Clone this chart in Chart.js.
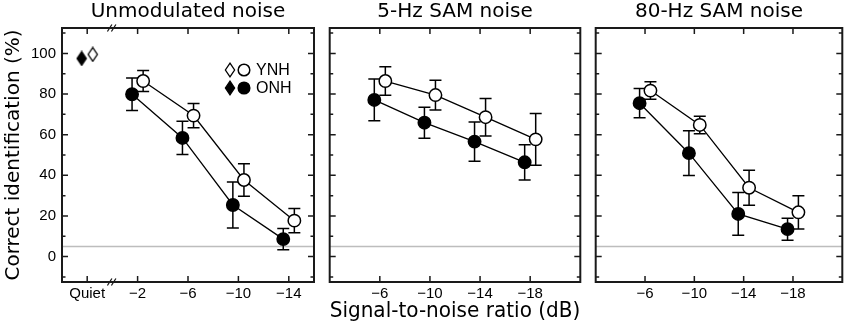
<!DOCTYPE html>
<html>
<head>
<meta charset="utf-8">
<title>Correct identification vs SNR</title>
<script src="https://cdn.jsdelivr.net/npm/chart.js"></script>
<style>
  html, body { margin: 0; padding: 0; background: #fff; }
  #wrap { position: relative; width: 850px; height: 328px; }
  #wrap canvas { position: absolute; top: 0; }
</style>
</head>
<body>
<div id="wrap">
  <canvas id="c1" width="322" height="328" style="left:0px"></canvas>
  <canvas id="c2" width="266" height="328" style="left:322px"></canvas>
  <canvas id="c3" width="262" height="328" style="left:588px"></canvas>
</div>
<script>
// ---- data ----
const panelTitles = ['Unmodulated noise', '5-Hz SAM noise', '80-Hz SAM noise'];
const snrUnmod = ['Quiet', '\u22122', '\u22126', '\u221210', '\u221214'];
const snrSam = ['\u22126', '\u221210', '\u221214', '\u221218'];
const yTickLabels = [0, 20, 40, 60, 80, 100];

const quietYNH = [99.5];
const quietONH = [97.5];

const ynhUnmod = [86.4, 69.4, 37.7, 17.7];
const ynhUnmodErr = [5.2, 6.0, 8.0, 6.0];
const onhUnmod = [79.9, 58.4, 25.4, 8.6];
const onhUnmodErr = [8.0, 8.2, 11.3, 5.2];

const ynh5Hz = [86.4, 79.5, 68.6, 57.7];
const ynh5HzErr = [7.0, 7.3, 9.2, 12.7];
const onh5Hz = [77.1, 65.9, 56.6, 46.4];
const onh5HzErr = [10.3, 7.6, 9.7, 8.7];

const ynh80Hz = [81.7, 64.8, 33.9, 21.8];
const ynh80HzErr = [4.3, 4.3, 8.6, 8.2];
const onh80Hz = [75.5, 50.9, 21.0, 13.5];
const onh80HzErr = [7.2, 11.0, 10.5, 5.4];

const chanceLevel = 5;

// ---- styling ----
Chart.defaults.font.family = "'Liberation Sans', Arial, sans-serif";
Chart.defaults.color = '#000';
const INK = '#1a1a1a';
const PAIR = 0.11; // horizontal offset between the two groups

function diamond(fill) {
  const c = document.createElement('canvas');
  c.width = 12; c.height = 16;
  const g = c.getContext('2d');
  g.beginPath();
  g.moveTo(6, 1.2); g.lineTo(10.6, 8); g.lineTo(6, 14.8); g.lineTo(1.4, 8); g.closePath();
  g.fillStyle = fill; g.fill();
  g.lineWidth = 1.3; g.strokeStyle = '#000'; g.stroke();
  return c;
}
const diamondOpen = diamond('#fff');
const diamondFilled = diamond('#000');

function seriesSet(label, values, errors, start, shift, fill) {
  return {
    label: label,
    data: values.map((v, i) => ({ x: start + i + shift, y: v })),
    errors: errors,
    showLine: true,
    borderColor: '#000',
    borderWidth: 1.3,
    pointRadius: 6.2,
    pointBorderWidth: 1.5,
    pointBorderColor: '#000',
    pointBackgroundColor: fill,
    backgroundColor: fill
  };
}

// error bars, chance line (under the markers)
const underlay = {
  id: 'underlay',
  beforeDatasetsDraw(chart) {
    const { ctx, chartArea: a, scales: { y } } = chart;
    ctx.save();
    const cy = y.getPixelForValue(chanceLevel);
    ctx.strokeStyle = '#bdbdbd';
    ctx.lineWidth = 1.5;
    ctx.beginPath(); ctx.moveTo(a.left, cy); ctx.lineTo(a.right, cy); ctx.stroke();

    ctx.strokeStyle = '#000';
    ctx.lineWidth = 1.5;
    chart.data.datasets.forEach((ds, di) => {
      if (!ds.errors) return;
      const meta = chart.getDatasetMeta(di);
      meta.data.forEach((pt, i) => {
        const v = ds.data[i].y, e = ds.errors[i];
        const t = y.getPixelForValue(v + e), b = y.getPixelForValue(v - e);
        ctx.beginPath();
        ctx.moveTo(pt.x, t); ctx.lineTo(pt.x, b);
        ctx.moveTo(pt.x - 6, t); ctx.lineTo(pt.x + 6, t);
        ctx.moveTo(pt.x - 6, b); ctx.lineTo(pt.x + 6, b);
        ctx.stroke();
      });
    });
    ctx.restore();
  }
};

// frame with inward ticks
const frame = {
  id: 'frame',
  afterDraw(chart, args, opts) {
    const { ctx, chartArea: a, scales: { x, y } } = chart;
    ctx.save();
    ctx.strokeStyle = INK;
    ctx.lineWidth = 1.5;
    ctx.beginPath();
    for (let v = -10; v <= 110; v += 10) {
      const py = y.getPixelForValue(v);
      const len = v % 20 === 0 ? 6 : 3.5;
      ctx.moveTo(a.left, py); ctx.lineTo(a.left + len, py);
      ctx.moveTo(a.right, py); ctx.lineTo(a.right - len, py);
    }
    x.ticks.forEach(t => {
      const px = x.getPixelForValue(t.value);
      ctx.moveTo(px, a.top); ctx.lineTo(px, a.top + 6);
      ctx.moveTo(px, a.bottom); ctx.lineTo(px, a.bottom - 6);
    });
    ctx.stroke();

    ctx.lineWidth = 2;
    ctx.strokeRect(a.left, a.top, a.right - a.left, a.bottom - a.top);

    if (opts.breakAt !== undefined) {
      const bx = x.getPixelForValue(opts.breakAt);
      ctx.lineWidth = 1.3;
      ctx.beginPath();
      [a.top, a.bottom].forEach(py => {
        ctx.moveTo(bx - 5, py + 3.5); ctx.lineTo(bx - 0.5, py - 3.5);
        ctx.moveTo(bx - 1, py + 3.5); ctx.lineTo(bx + 3.5, py - 3.5);
      });
      ctx.stroke();
    }

    if (opts.legend) {
      const rows = [['YNH', diamondOpen, '#fff'], ['ONH', diamondFilled, '#000']];
      ctx.font = "16px 'Liberation Sans', Arial, sans-serif";
      ctx.textBaseline = 'middle';
      ctx.fillStyle = '#000';
      rows.forEach((r, i) => {
        const ry = a.top + 42 + i * 18;
        const dx = a.right - 84;
        ctx.drawImage(r[1], dx - 6, ry - 8);
        ctx.beginPath();
        ctx.arc(a.right - 70, ry, 5.8, 0, Math.PI * 2);
        ctx.fillStyle = r[2]; ctx.fill();
        ctx.lineWidth = 1.5; ctx.strokeStyle = '#000'; ctx.stroke();
        ctx.fillStyle = '#000';
        ctx.fillText(r[0], a.right - 58, ry + 1);
      });
    }
    ctx.restore();
  }
};

function makePanel(id, title, labels, start, datasets, opts) {
  const first = opts.first;
  return new Chart(document.getElementById(id), {
    type: 'scatter',
    data: { datasets: datasets },
    plugins: [underlay, frame],
    options: {
      responsive: false,
      animation: false,
      layout: { padding: { left: 0, right: opts.padRight, top: 0, bottom: 0 } },
      plugins: {
        legend: { display: false },
        tooltip: { enabled: false },
        title: {
          display: true,
          text: title,
          fullSize: false,
          color: '#000',
          font: { family: "'DejaVu Sans', sans-serif", size: 20, weight: 'normal', lineHeight: 1.2 },
          padding: { top: 0, bottom: 4 }
        },
        frame: { legend: first, breakAt: first ? 0.5 : undefined }
      },
      scales: {
        x: {
          type: 'linear',
          min: -0.5,
          max: first ? labels.length - 0.5 : labels.length + 0.5,
          afterBuildTicks: s => { s.ticks = labels.map((_, i) => ({ value: start + i })); },
          afterFit: s => { s.height = 46; },
          grid: { display: false, drawTicks: false },
          border: { display: false },
          ticks: {
            padding: 3,
            color: '#000',
            font: { size: 15 },
            maxRotation: 0,
            autoSkip: false,
            callback: v => labels[Math.round(v - start)]
          },
          title: {
            display: !!opts.xTitle,
            text: opts.xTitle || '',
            color: '#000',
            font: { family: "'DejaVu Sans', sans-serif", size: 21, lineHeight: 1.2 },
            padding: { top: 0, bottom: 4 }
          }
        },
        y: {
          min: -12.5,
          max: 112.5,
          afterBuildTicks: s => { s.ticks = yTickLabels.map(v => ({ value: v })); },
          afterFit: s => { s.width = first ? 62 : 6; },
          grid: { display: false, drawTicks: false },
          border: { display: false },
          ticks: {
            display: first,
            padding: 6,
            color: '#000',
            font: { size: 15 }
          },
          title: {
            display: first,
            text: 'Correct identification (%)',
            color: '#000',
            font: { family: "'DejaVu Sans', sans-serif", size: 20, lineHeight: 1.2 },
            padding: { top: 2, bottom: 0 }
          }
        }
      }
    }
  });
}

// panel 1: Quiet at 0, SNR conditions from 1
const p1 = [
  seriesSet('YNH', ynhUnmod, ynhUnmodErr, 1, PAIR, '#fff'),
  seriesSet('ONH', onhUnmod, onhUnmodErr, 1, -PAIR, '#000'),
  { label: 'YNH quiet', data: quietYNH.map(v => ({ x: PAIR, y: v })), showLine: false,
    pointStyle: diamondOpen, pointRadius: 7 },
  { label: 'ONH quiet', data: quietONH.map(v => ({ x: -PAIR, y: v })), showLine: false,
    pointStyle: diamondFilled, pointRadius: 7 }
];
makePanel('c1', panelTitles[0], snrUnmod, 0, p1, { first: true, padRight: 6 });

// panels 2 and 3: conditions sit at 1..4 of a 0..5 span (shifted by 0.5 on a -0.5..4.5 axis)
const p2 = [
  seriesSet('YNH', ynh5Hz, ynh5HzErr, 0.5, PAIR, '#fff'),
  seriesSet('ONH', onh5Hz, onh5HzErr, 0.5, -PAIR, '#000')
];
makePanel('c2', panelTitles[1], snrSam, 0.5, p2, { first: false, padRight: 6, xTitle: 'Signal-to-noise ratio (dB)' });

const p3 = [
  seriesSet('YNH', ynh80Hz, ynh80HzErr, 0.5, PAIR, '#fff'),
  seriesSet('ONH', onh80Hz, onh80HzErr, 0.5, -PAIR, '#000')
];
makePanel('c3', panelTitles[2], snrSam, 0.5, p3, { first: false, padRight: 3 });
</script>
</body>
</html>
